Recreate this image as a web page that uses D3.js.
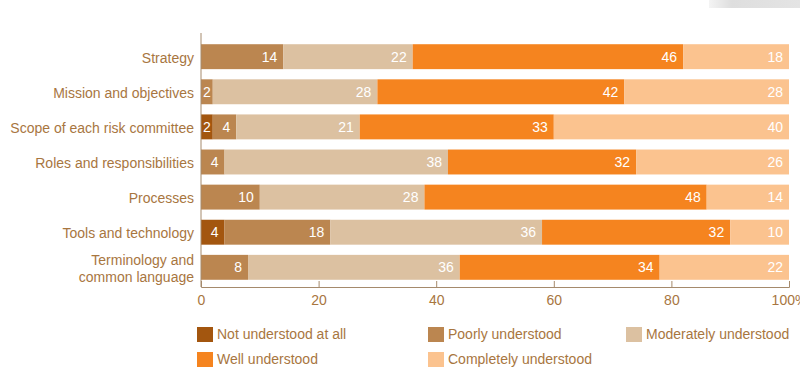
<!DOCTYPE html>
<html>
<head>
<meta charset="utf-8">
<script src="https://cdn.jsdelivr.net/npm/d3@7"></script>
<style>
  html, body { margin: 0; padding: 0; background: #fff; }
  svg { display: block; font-family: "Liberation Sans", Arial, sans-serif; }
</style>
</head>
<body>
<svg id="chart" width="800" height="370"></svg>
<script>
// Categories (top to bottom)
const categories = [
  "Strategy",
  "Mission and objectives",
  "Scope of each risk committee",
  "Roles and responsibilities",
  "Processes",
  "Tools and technology",
  "Terminology and\ncommon language"
];

// Series, in stacking order (left to right)
const seriesNames = [
  "Not understood at all",
  "Poorly understood",
  "Moderately understood",
  "Well understood",
  "Completely understood"
];
const notUnderstood   = [0, 0, 2, 0, 0, 4, 0];
const poorly          = [14, 2, 4, 4, 10, 18, 8];
const moderately      = [22, 28, 21, 38, 28, 36, 36];
const well            = [46, 42, 33, 32, 48, 32, 34];
const completely      = [18, 28, 40, 26, 14, 10, 22];

const xTicks = [0, 20, 40, 60, 80, 100];
const xTickLabels = ["0", "20", "40", "60", "80", "100%"];

const colors = ["#a3560f", "#bb8650", "#dcc1a1", "#f5841f", "#fbc38f"];
const textColor = "#a8763f";
const axisColor = "#a58a6c";
const fontSize = 14;

const seriesValues = [notUnderstood, poorly, moderately, well, completely];
const rows = categories.map((c, i) => {
  const r = { category: c };
  seriesNames.forEach((s, j) => { r[s] = seriesValues[j][i]; });
  return r;
});

const svg = d3.select("#chart");

// Faint grey band at the top-right corner
const defs = svg.append("defs");
const grad = defs.append("linearGradient").attr("id", "cornerBand");
grad.append("stop").attr("offset", "0%").attr("stop-color", "#f4f4f4");
grad.append("stop").attr("offset", "25%").attr("stop-color", "#dedede");
grad.append("stop").attr("offset", "100%").attr("stop-color", "#e4e4e4");
svg.append("rect").attr("x", 709).attr("y", 0).attr("width", 91).attr("height", 8)
  .attr("fill", "url(#cornerBand)");

const x0 = 201, x1 = 789;
const x = d3.scaleLinear().domain([0, 100]).range([x0, x1]);
const y = d3.scaleBand().domain(categories).range([40, 284]).paddingInner(0.29).paddingOuter(0.12);

const stack = d3.stack().keys(seriesNames);
const layers = stack(rows);

const g = svg.append("g");
layers.forEach((layer, j) => {
  const lg = g.append("g");
  const segs = layer.filter(d => d[1] - d[0] > 0);
  lg.selectAll("rect")
    .data(segs)
    .join("rect")
    .attr("x", d => x(d[0]))
    .attr("y", d => y(d.data.category))
    .attr("width", d => x(d[1]) - x(d[0]))
    .attr("height", y.bandwidth())
    .attr("fill", colors[j]);
  lg.selectAll("text")
    .data(segs)
    .join("text")
    .attr("x", d => x(d[1]) - (x(d[1]) - x(d[0]) < 14 ? 2 : 6))
    .attr("y", d => y(d.data.category) + y.bandwidth() / 2)
    .attr("dy", "0.35em")
    .attr("text-anchor", "end")
    .attr("fill", "#fff")
    .attr("font-size", fontSize)
    .text(d => d[1] - d[0]);
});

// Category labels
const labels = svg.append("g");
categories.forEach(c => {
  const lines = c.split("\n");
  const cy = y(c) + y.bandwidth() / 2;
  const t = labels.append("text")
    .attr("x", 194)
    .attr("text-anchor", "end")
    .attr("fill", textColor)
    .attr("font-size", fontSize);
  lines.forEach((ln, k) => {
    t.append("tspan")
      .attr("x", 194)
      .attr("y", cy + 1 + (k - (lines.length - 1) / 2) * 17)
      .attr("dy", "0.35em")
      .text(ln);
  });
});

// Axes
const axisY = 287;
svg.append("line").attr("x1", x0).attr("x2", x0).attr("y1", 33).attr("y2", axisY)
  .attr("stroke", axisColor).attr("stroke-width", 1);
const xAxis = d3.axisBottom(x).tickValues(xTicks).tickSize(-6).tickPadding(8)
  .tickFormat((d, i) => xTickLabels[i]);
const ax = svg.append("g").attr("transform", `translate(0,${axisY})`).call(xAxis);
ax.select(".domain").attr("stroke", axisColor);
ax.selectAll(".tick line").attr("stroke", axisColor);
ax.selectAll(".tick text").attr("fill", textColor).attr("font-size", fontSize)
  .attr("font-family", "\"Liberation Sans\", Arial, sans-serif");

// Legend
const legendPos = [
  [197, 327], [428, 327], [626, 327],
  [197, 352], [428, 352]
];
const legend = svg.append("g");
seriesNames.forEach((s, j) => {
  const [lx, ly] = legendPos[j];
  legend.append("rect").attr("x", lx).attr("y", ly).attr("width", 16).attr("height", 15)
    .attr("fill", colors[j]);
  legend.append("text").attr("x", lx + 20).attr("y", ly + 7.5).attr("dy", "0.35em")
    .attr("fill", textColor).attr("font-size", fontSize).text(s);
});
</script>
</body>
</html>
